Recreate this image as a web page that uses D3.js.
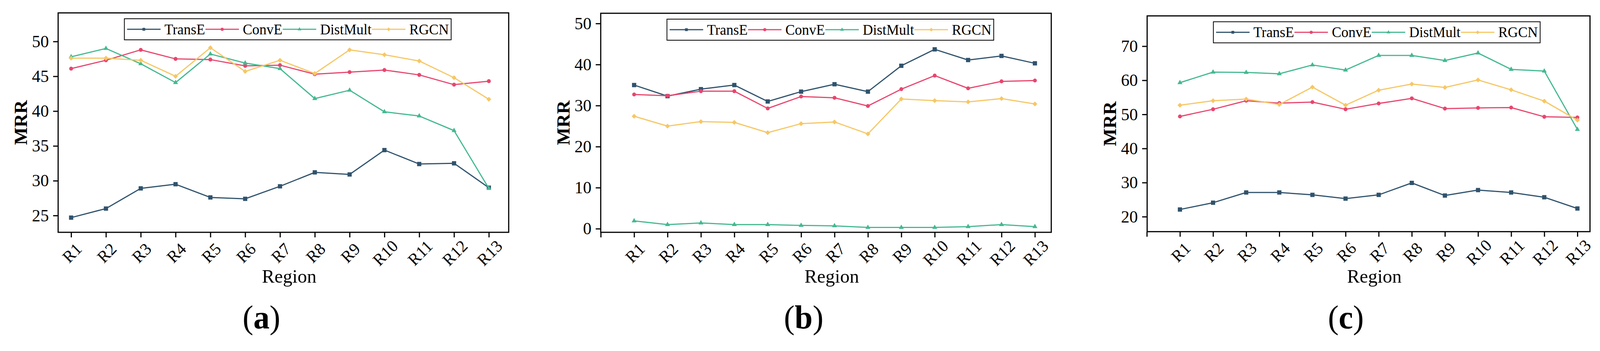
<!DOCTYPE html>
<html>
<head>
<meta charset="utf-8">
<script src="https://cdn.jsdelivr.net/npm/d3@7"></script>
<style>
  html, body { margin: 0; padding: 0; width: 100%; height: 100%; overflow: hidden; background: #fff; }
  svg { display: block; width: 100%; height: 100%; }
  text { font-family: "Liberation Serif", "Times New Roman", Times, serif !important; fill: #000; }
</style>
</head>
<body>
<svg id="chart" viewBox="0 0 4155 899" preserveAspectRatio="none"></svg>
<script>
const regions = ['R1','R2','R3','R4','R5','R6','R7','R8','R9','R10','R11','R12','R13'];
const models = ['TransE','ConvE','DistMult','RGCN'];
const colors = ['#30536d','#e8466e','#44b990','#f6c765'];

// panel (a)
const transeA   = [24.7,26.0,28.9,29.5,27.6,27.4,29.2,31.2,30.9,34.4,32.4,32.5,29.0];
const conveA    = [46.1,47.3,48.8,47.5,47.4,46.5,46.6,45.3,45.6,45.9,45.2,43.8,44.3];
const distmultA = [47.8,49.0,46.8,44.1,48.2,46.9,46.1,41.8,43.0,39.9,39.3,37.2,28.9];
const rgcnA     = [47.6,47.6,47.3,45.0,49.1,45.7,47.3,45.4,48.8,48.1,47.2,44.8,41.7];
const yTicksA   = [25,30,35,40,45,50];

// panel (b)
const transeB   = [35.0,32.3,34.0,35.0,31.0,33.4,35.2,33.4,39.7,43.7,41.1,42.1,40.3];
const conveB    = [32.7,32.4,33.5,33.5,29.3,32.2,31.9,29.9,34.0,37.3,34.2,35.9,36.1];
const distmultB = [1.9,1.0,1.4,1.0,1.0,0.8,0.7,0.3,0.3,0.3,0.5,1.0,0.5];
const rgcnB     = [27.4,25.0,26.1,25.9,23.4,25.6,26.0,23.1,31.6,31.2,30.9,31.7,30.4];
const yTicksB   = [0,10,20,30,40,50];

// panel (c)
const transeC   = [22.1,24.1,27.1,27.1,26.4,25.3,26.4,29.9,26.2,27.8,27.1,25.7,22.4];
const conveC    = [49.4,51.5,54.0,53.3,53.6,51.5,53.2,54.7,51.7,51.9,52.0,49.3,49.1];
const distmultC = [59.3,62.4,62.3,61.9,64.5,63.0,67.3,67.3,65.8,68.0,63.2,62.7,45.6];
const rgcnC     = [52.7,54.0,54.5,52.9,58.0,52.7,57.1,58.9,57.9,60.1,57.2,53.9,48.3];
const yTicksC   = [20,30,40,50,60,70];

const panels = [
  { tag: 'a', series: [transeA, conveA, distmultA, rgcnA], yTicks: yTicksA,
    left: 151, right: 1321, top: 33, bottom: 595,
    xDom: [0.627, 13.57], yDom: [22.59, 54.11], xTicks: d3.range(1, 14), capX: 679 },
  { tag: 'b', series: [transeB, conveB, distmultB, rgcnB], yTicks: yTicksB,
    left: 1560, right: 2730, top: 34, bottom: 595,
    xDom: [0, 13.49], yDom: [-0.88, 52.49], xTicks: d3.range(0, 14), capX: 2087 },
  { tag: 'c', series: [transeC, conveC, distmultC, rgcnC], yTicks: yTicksC,
    left: 2979, right: 4129, top: 40.7, bottom: 593.3,
    xDom: [0.01, 13.38], yDom: [15.61, 78.89], xTicks: d3.range(0, 14), capX: 3495 }
];

const symbols = [d3.symbolSquare, d3.symbolCircle, d3.symbolTriangle, d3.symbolSquare];
const plotSizes = [121, 80, 72, 78];
const legendSizes = [52, 52, 40, 44];
const rot = [0, 0, 0, 45];

const svg = d3.select('#chart');
svg.append('rect').attr('width', 4155).attr('height', 899).attr('fill', '#fff');

panels.forEach(p => {
  const x = d3.scaleLinear().domain(p.xDom).range([p.left, p.right]);
  const y = d3.scaleLinear().domain(p.yDom).range([p.bottom, p.top]);
  const g = svg.append('g');

  // y axis
  const ya = g.append('g')
    .attr('transform', `translate(${p.left},0)`)
    .call(d3.axisLeft(y).tickValues(p.yTicks).tickSize(13).tickPadding(11));
  ya.select('.domain').remove();
  ya.selectAll('line').attr('stroke', '#000').attr('stroke-width', 3);
  ya.selectAll('text').attr('font-size', 44);

  // x axis
  const xa = g.append('g')
    .attr('transform', `translate(0,${p.bottom})`)
    .call(d3.axisBottom(x).tickValues(p.xTicks).tickSize(13)
      .tickFormat(i => regions[i - 1] || ''));
  xa.select('.domain').remove();
  xa.selectAll('line').attr('stroke', '#000').attr('stroke-width', 3);
  xa.selectAll('text')
    .attr('font-size', 43)
    .attr('text-anchor', 'middle')
    .attr('y', 0).attr('dy', '0.33em')
    .attr('transform', 'translate(2,53) rotate(-45)');

  // series
  const line = d3.line().x((d, i) => x(i + 1)).y(d => y(d));
  p.series.forEach((vals, k) => {
    g.append('path')
      .datum(vals)
      .attr('d', line)
      .attr('fill', 'none')
      .attr('stroke', colors[k])
      .attr('stroke-width', 3)
      .attr('stroke-linejoin', 'round');
    g.selectAll(null)
      .data(vals)
      .join('path')
      .attr('d', d3.symbol(symbols[k], plotSizes[k]))
      .attr('transform', (d, i) => `translate(${x(i + 1)},${y(d)}) rotate(${rot[k]})`)
      .attr('fill', colors[k]);
  });

  // frame
  g.append('rect')
    .attr('x', p.left).attr('y', p.top)
    .attr('width', p.right - p.left).attr('height', p.bottom - p.top)
    .attr('fill', 'none').attr('stroke', '#000').attr('stroke-width', 3);

  // legend
  const lg = g.append('g').attr('transform', `translate(${p.left + 172},${p.top + 15})`);
  const box = lg.append('rect').attr('height', 54).attr('fill', '#fff')
    .attr('stroke', '#000').attr('stroke-width', 2);
  let cx = 7;
  models.forEach((m, k) => {
    lg.append('line').attr('x1', cx).attr('x2', cx + 87).attr('y1', 27).attr('y2', 27)
      .attr('stroke', colors[k]).attr('stroke-width', 3);
    lg.append('path')
      .attr('d', d3.symbol(symbols[k], legendSizes[k]))
      .attr('transform', `translate(${cx + 43.5},27) rotate(${rot[k]})`)
      .attr('fill', colors[k]);
    const t = lg.append('text').attr('x', cx + 97).attr('y', 27).attr('dy', '0.34em')
      .attr('font-size', 37).text(m);
    cx += 97 + t.node().getComputedTextLength() + 1;
  });
  box.attr('width', cx + 5);

  // axis titles
  g.append('text')
    .attr('x', (p.left + p.right) / 2 + 15).attr('y', 724)
    .attr('text-anchor', 'middle').attr('font-size', 49).text('Region');
  g.append('text')
    .attr('transform', `translate(${p.left - 98},${(p.top + p.bottom) / 2}) rotate(-90)`)
    .attr('text-anchor', 'middle').attr('dy', '0.35em')
    .attr('font-size', 48).attr('font-weight', 'bold').text('MRR');

  // caption
  const cap = g.append('text').attr('x', p.capX).attr('y', 841)
    .attr('text-anchor', 'middle').attr('font-size', 84);
  cap.append('tspan').text('(');
  cap.append('tspan').attr('font-weight', 'bold').text(p.tag);
  cap.append('tspan').text(')');
});
</script>
</body>
</html>
